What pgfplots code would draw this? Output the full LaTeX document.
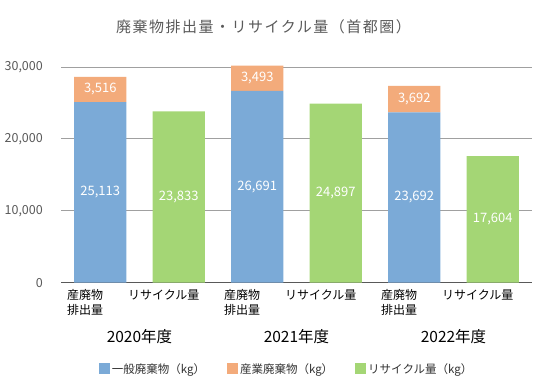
\documentclass[border=0pt]{standalone}
\usepackage{pgfplots}
\pgfplotsset{compat=1.18}
\usepackage{fontspec}
\setmainfont{Noto Sans CJK JP}
\newfontfamily\titlefont[LetterSpace=10]{Noto Sans CJK JP}
\definecolor{cblue}{RGB}{123,170,215}
\definecolor{corange}{RGB}{243,171,123}
\definecolor{cgreen}{RGB}{164,214,117}
\definecolor{tgray}{RGB}{89,89,89}
\definecolor{ggray}{RGB}{160,160,160}
\definecolor{ltext}{RGB}{50,50,50}
\begin{document}
\begin{tikzpicture}[x=1pt,y=1pt]
\path[use as bounding box] (0,0) rectangle (551,388);
\node[font=\titlefont\fontsize{15}{17}\selectfont, text=tgray] at (263.5,361) {廃棄物排出量・リサイクル量（首都圏）};
\begin{axis}[
  at={(61pt,105.3pt)}, anchor=south west,
  width=471pt, height=217.9pt, scale only axis,
  xmin=-0.5, xmax=5.5, ymin=0, ymax=30300,
  clip=false,
  ybar stacked, bar width=52pt,
  axis x line*=bottom, axis y line*=left,
  y axis line style={draw=none},
  x axis line style={draw=tgray, line width=1.5pt, -},
  ytick={0,10000,20000,30000},
  ymajorgrids, major grid style={ggray, line width=0.8pt},
  tick style={draw=none},
  scaled y ticks=false,
  yticklabel style={font=\fontsize{12.5}{14}\selectfont, text=tgray, anchor=east, inner sep=0pt, xshift=-18pt,
    /pgf/number format/1000 sep={,}, /pgf/number format/assume math mode=true},
  xtick={0,1,2,3,4,5},
  xticklabels={{産廃物\\排出量},リサイクル量,{産廃物\\排出量},リサイクル量,{産廃物\\排出量},リサイクル量},
  xticklabel style={align=center, font=\fontsize{12}{15}\selectfont, text=black, anchor=north, inner sep=0pt, xshift=-15pt, yshift=-7pt},
  legend style={at={(0.479,-0.396)}, anchor=center, draw=none, legend columns=3,
    font=\fontsize{11.5}{13}\selectfont, text=ltext,
    /tikz/every even column/.append style={column sep=20pt}},
  legend image code/.code={\fill[#1] (0pt,-5.5pt) rectangle (11pt,5.5pt);},
]
\addplot[fill=cblue, draw=none] coordinates {(0,25113) (1,0) (2,26691) (3,0) (4,23692) (5,0)};
\addlegendentry{一般廃棄物（kg）}
\addplot[fill=corange, draw=none] coordinates {(0,3516) (1,0) (2,3493) (3,0) (4,3692) (5,0)};
\addlegendentry{産業廃棄物（kg）}
\addplot[fill=cgreen, draw=none] coordinates {(0,0) (1,23833) (2,0) (3,24897) (4,0) (5,17604)};
\addlegendentry{リサイクル量（kg）}
\node[font=\fontsize{15.5}{17}\selectfont, text=black] at (axis cs:0.5,0) [yshift=-54pt] {2020年度};
\node[font=\fontsize{15.5}{17}\selectfont, text=black] at (axis cs:2.5,0) [yshift=-54pt] {2021年度};
\node[font=\fontsize{15.5}{17}\selectfont, text=black] at (axis cs:4.5,0) [yshift=-54pt] {2022年度};
\end{axis}
\begin{axis}[
  at={(61pt,105.3pt)}, anchor=south west,
  width=471pt, height=217.9pt, scale only axis,
  xmin=-0.5, xmax=5.5, ymin=0, ymax=30300,
  hide axis, clip=false,
]
\addplot[draw=none, mark=none, nodes near coords, point meta=explicit symbolic,
  every node near coord/.style={anchor=center, text=white, font=\fontsize{13}{15}\selectfont}]
  coordinates {(0,12556.5) [25,113] (0,26871) [3,516] (1,11916.5) [23,833]
               (2,13345.5) [26,691] (2,28437.5) [3,493] (3,12448.5) [24,897]
               (4,11846) [23,692] (4,25538) [3,692] (5,8802) [17,604]};
\end{axis}
\end{tikzpicture}
\end{document}
